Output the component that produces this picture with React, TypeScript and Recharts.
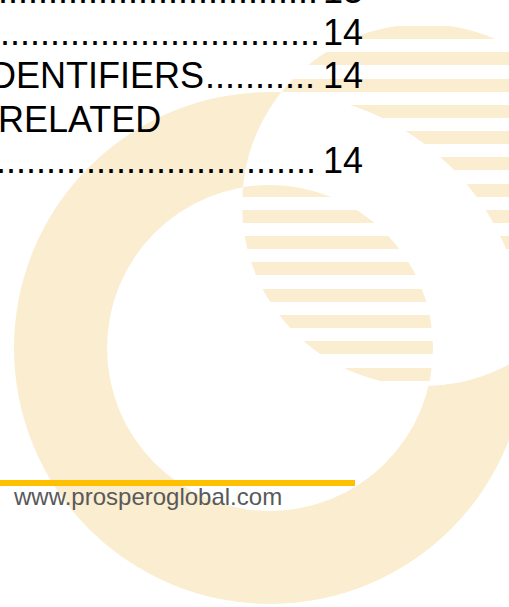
import { ComposedChart, Scatter, XAxis, YAxis } from 'recharts'

const W = 509
const H = 607
// data units are pixels of the page crop
const X_MAX = 509
const Y_MAX = 607
const k = W / X_MAX

const PALE = '#FAEDD0'
const GOLD = '#FFC000'
const FONT = '"Liberation Sans", Arial, sans-serif'

// logo: big ring and the striped disc that cuts it
const ring = [{ x: 270, y: 348, inner: 163, outer: 256 }]
const disk = [{ x: 423, y: 205, r: 181 }]
const stripeTops = [26, 52, 79, 105, 131, 157, 184, 210, 236, 262, 289, 315, 341, 368]
const STRIPE_H = 13
const stripeRows = stripeTops.map((t) => ({ x: disk[0].x, y: t + STRIPE_H / 2 }))

// gold footer rule
const rule = [
  { x: 0, y: 483 },
  { x: 355, y: 483 },
]

// table of contents fragments
const tocTitles = ['', '', 'IDENTIFIERS', 'RELATED', '']
const tocLeaders = [
  '.'.repeat(40),
  '.'.repeat(40),
  '.'.repeat(11),
  '',
  '.'.repeat(40),
]
const tocPages = ['13', '14', '14', '', '14']
const footerUrl = 'www.prosperoglobal.com'

// layout of the text rows
const rowBaseline = [3, 45, 88, 132, 173]
const titleX = [0, 0, -20, -2, 0]
const leaderEnd = [318, 320, 315, 0, 316]
const PAGE_END = 363

const annulus = (fill: string, clip?: string) => (p: any) => {
  const { cx, cy, payload } = p
  const R = payload.outer * k
  const r = payload.inner * k
  const d =
    `M${cx - R},${cy}a${R},${R} 0 1,0 ${2 * R},0a${R},${R} 0 1,0 ${-2 * R},0Z` +
    `M${cx - r},${cy}a${r},${r} 0 1,0 ${2 * r},0a${r},${r} 0 1,0 ${-2 * r},0Z`
  return <path d={d} fill={fill} fillRule="evenodd" clipPath={clip} />
}

const diskShape = (p: any) => {
  const { cx, cy, payload } = p
  const r = payload.r * k
  return (
    <g>
      <defs>
        <clipPath id="logoDisk">
          <circle cx={cx} cy={cy} r={r} />
        </clipPath>
      </defs>
      <circle cx={cx} cy={cy} r={r} fill="#fff" />
    </g>
  )
}

const stripeShape = (p: any) => {
  const { cx, cy } = p
  const r = disk[0].r * k
  return (
    <rect
      x={cx - r}
      y={cy - (STRIPE_H * k) / 2}
      width={2 * r}
      height={STRIPE_H * k}
      fill={PALE}
      clipPath="url(#logoDisk)"
    />
  )
}

export default function App() {
  return (
    <div
      style={{
        position: 'absolute',
        left: 0,
        top: 0,
        width: W,
        height: H,
        background: '#fff',
        overflow: 'hidden',
      }}
    >
      <ComposedChart width={W} height={H} margin={{ top: 0, right: 0, bottom: 0, left: 0 }}>
        <XAxis type="number" dataKey="x" domain={[0, X_MAX]} allowDataOverflow hide />
        <YAxis type="number" dataKey="y" domain={[0, Y_MAX]} allowDataOverflow reversed hide />
        <Scatter data={ring} shape={annulus(PALE)} isAnimationActive={false} />
        <Scatter data={disk} shape={diskShape} isAnimationActive={false} />
        <Scatter data={stripeRows} shape={stripeShape} isAnimationActive={false} />
        <Scatter data={ring} shape={annulus('#fff', 'url(#logoDisk)')} isAnimationActive={false} />
        <Scatter
          data={rule}
          line={{ stroke: GOLD, strokeWidth: 6 }}
          shape={() => <g />}
          isAnimationActive={false}
        />
      </ComposedChart>

      <svg
        width={W}
        height={H}
        style={{ position: 'absolute', left: 0, top: 0, pointerEvents: 'none' }}
      >
        <g fontFamily={FONT} fontSize={36} fill="#000">
          {rowBaseline.map((y, i) => (
            <g key={i}>
              {tocTitles[i] && (
                <text x={titleX[i]} y={y}>
                  {tocTitles[i]}
                </text>
              )}
              {tocLeaders[i] && (
                <text x={leaderEnd[i]} y={y} textAnchor="end">
                  {tocLeaders[i]}
                </text>
              )}
              {tocPages[i] && (
                <text x={PAGE_END} y={y} textAnchor="end">
                  {tocPages[i]}
                </text>
              )}
            </g>
          ))}
        </g>
        <text x={14} y={505} fontFamily={FONT} fontSize={24} fill="#595959">
          {footerUrl}
        </text>
      </svg>
    </div>
  )
}
